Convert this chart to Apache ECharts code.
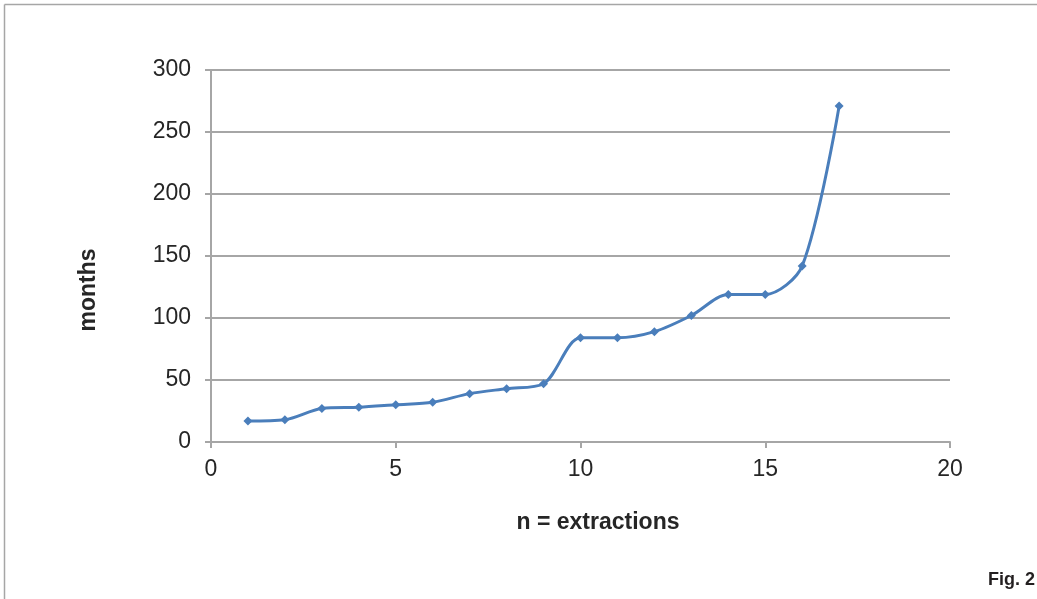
<!DOCTYPE html>
<html>
<head>
<meta charset="utf-8">
<script src="https://cdn.jsdelivr.net/npm/echarts@6/dist/echarts.min.js"></script>
<style>
html,body{margin:0;padding:0;background:#fff;}
#chart{width:1037px;height:599px;}
</style>
</head>
<body>
<div id="chart"></div>
<script>
const extractions = [1,2,3,4,5,6,7,8,9,10,11,12,13,14,15,16,17];
const months = [17,18,27,28,30,32,39,43,47,84,84,89,102,119,119,142,271];
const xTicks = [0,5,10,15,20];
const yTicks = [0,50,100,150,200,250,300];
const xTitle = 'n = extractions';
const yTitle = 'months';
const figLabel = 'Fig. 2';

const chart = echarts.init(document.getElementById('chart'));
const font = '"Liberation Sans", Arial, sans-serif';
chart.setOption({
  animation: false,
  backgroundColor: '#fff',
  grid: {left: 211, right: 87, top: 70, bottom: 157, containLabel: false},
  xAxis: {
    type: 'value', min: xTicks[0], max: xTicks[xTicks.length-1], interval: 5,
    axisLine: {show: true, lineStyle: {color: '#a6a6a6', width: 2}},
    axisTick: {show: true, length: 6, lineStyle: {color: '#a6a6a6', width: 2}},
    axisLabel: {fontFamily: font, fontSize: 23, color: '#262626', margin: 16},
    splitLine: {show: false}
  },
  yAxis: {
    type: 'value', min: yTicks[0], max: yTicks[yTicks.length-1], interval: 50,
    axisLine: {show: true, lineStyle: {color: '#a6a6a6', width: 2}},
    axisTick: {show: true, length: 6, lineStyle: {color: '#a6a6a6', width: 2}},
    axisLabel: {fontFamily: font, fontSize: 23, color: '#262626', margin: 20},
    splitLine: {show: true, lineStyle: {color: '#a6a6a6', width: 2}}
  },
  series: [{
    type: 'line',
    data: extractions.map((x, i) => [x, months[i]]),
    smooth: 0.3,
    symbol: 'diamond',
    symbolSize: 9,
    lineStyle: {color: '#4a7ebb', width: 3},
    itemStyle: {color: '#4a7ebb'}
  }],
  graphic: [
    {type: 'line', shape: {x1: 4.5, y1: 4.5, x2: 1037, y2: 4.5}, style: {stroke: '#a6a6a6', lineWidth: 1.5}},
    {type: 'line', shape: {x1: 4.5, y1: 4.5, x2: 4.5, y2: 599}, style: {stroke: '#a6a6a6', lineWidth: 1.5}},
    {type: 'text', x: 598, y: 523, style: {text: xTitle, font: 'bold 23px ' + font, fill: '#262626', align: 'center', verticalAlign: 'middle'}},
    {type: 'text', x: 89, y: 290, rotation: Math.PI / 2, style: {text: yTitle, font: 'bold 23px ' + font, fill: '#262626', align: 'center', verticalAlign: 'middle'}},
    {type: 'text', right: 2, top: 571, style: {text: figLabel, font: 'bold 18px "Liberation Sans Narrow", "Liberation Sans", Arial, sans-serif', fill: '#231f20'}}
  ]
});
</script>
</body>
</html>
